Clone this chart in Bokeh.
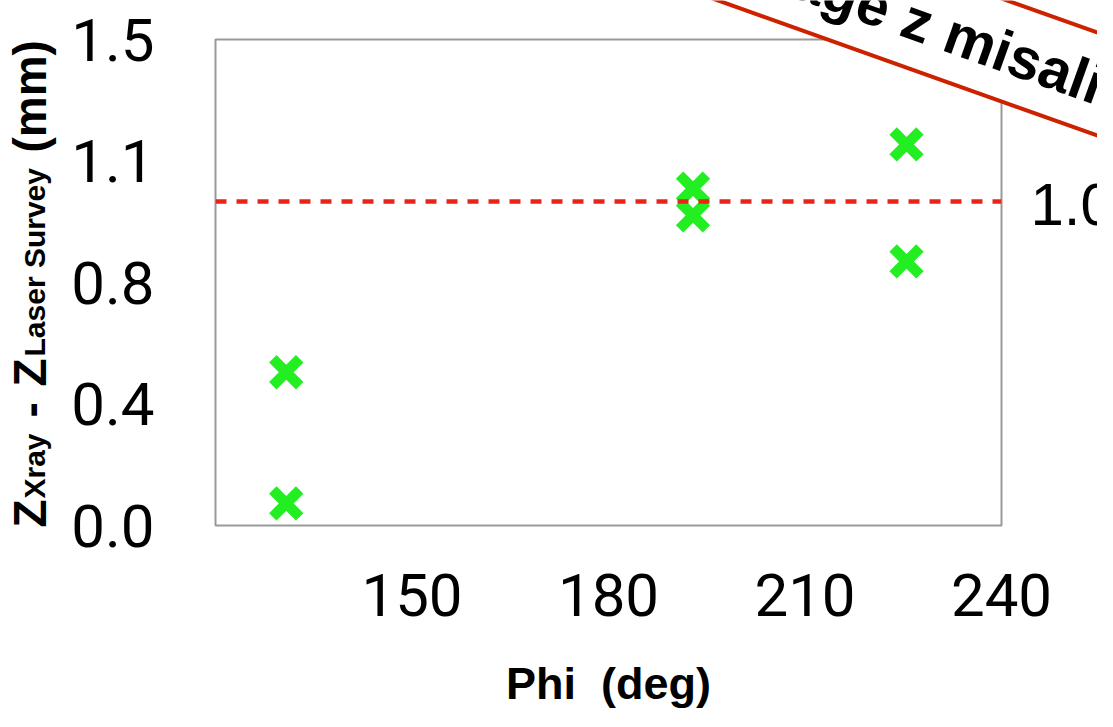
import math
from bokeh.plotting import figure
from bokeh.models import Label, Span, FixedTicker, Range1d
from bokeh.embed import file_html
from bokeh.resources import INLINE

# ---- data ----
phi = [130.8, 130.8, 192.9, 192.9, 225.5, 225.5]
dz = [0.473, 0.068, 1.040, 0.957, 1.176, 0.815]
threshold = 1.0
threshold_label = "1.0"
x_ticks = [150, 180, 210, 240]
y_ticks = [0, 0.375, 0.75, 1.125, 1.5]
y_tick_labels = ["0.0", "0.4", "0.8", "1.1", "1.5"]
x_title = "Phi \u00a0(deg)"
y_title_parts = ["Z", "Xray", "-", "Z", "Laser Survey", "(mm)"]
banner_text = "Average z misalignment"

# ---- layout (canvas px) ----
W, H = 1097, 711
FL, FT, FW, FH = 215, 39, 786, 486
X0, X1, Y0, Y1 = 120, 240, 0.0, 1.5

p = figure(width=W, height=H, x_range=(X0, X1), y_range=(Y0, Y1),
           output_backend="svg", toolbar_location=None)
p.min_border = 0
p.min_border_left = FL
p.min_border_right = W - FL - FW
p.min_border_top = FT
p.min_border_bottom = H - FT - FH
p.xgrid.visible = False
p.ygrid.visible = False
p.outline_line_color = "#999999"
p.outline_line_width = 2
p.background_fill_color = "white"
p.border_fill_color = "white"

tick_font = "Roboto"
for ax in (p.xaxis[0], p.yaxis[0]):
    ax.axis_line_color = None
    ax.major_tick_line_color = None
    ax.minor_tick_line_color = None
    ax.major_label_text_font = tick_font
    ax.major_label_text_font_size = "60px"
    ax.major_label_text_color = "black"

p.xaxis[0].ticker = FixedTicker(ticks=x_ticks)
p.yaxis[0].ticker = FixedTicker(ticks=y_ticks)
p.yaxis[0].major_label_overrides = {t: l for t, l in zip(y_ticks, y_tick_labels)}
p.xaxis[0].major_label_standoff = 42
p.yaxis[0].major_label_standoff = 55

p.xaxis[0].axis_label = x_title
p.xaxis[0].axis_label_text_font = "Liberation Sans"
p.xaxis[0].axis_label_text_font_style = "bold"
p.xaxis[0].axis_label_text_font_size = "45px"
p.xaxis[0].axis_label_text_color = "black"
p.xaxis[0].axis_label_standoff = 39

# threshold line
p.add_layout(Span(location=threshold, dimension="width", line_color="#EA2517",
                  line_width=4.5, line_dash="11 10"))

# markers
p.scatter(phi, dz, marker="x", size=38, line_width=10.5, line_color="#22EE22")

# ---- transparent overlay canvas (separate root) for free-floating annotations ----
ov = figure(width=W, height=H, x_range=Range1d(0, W), y_range=Range1d(H, 0),
            output_backend="svg", toolbar_location=None,
            x_axis_location=None, y_axis_location=None, min_border=0)
ov.grid.visible = False
ov.outline_line_color = None
ov.background_fill_color = None
ov.border_fill_color = None
ov.margin = (-H, 0, 0, 0)


def clabel(x, y, text, **kw):
    return Label(x=x, y=y, text=text, **kw)


# threshold value label
ov.add_layout(clabel(1030, 204, threshold_label,
                     text_font="Liberation Sans", text_font_size="60px",
                     text_baseline="middle", text_align="left", text_color="black"))

# rotated banner
ang = -math.radians(19.6)
ov.add_layout(clabel(660, -72, banner_text, angle=ang,
                     text_font="Liberation Sans", text_font_style="bold",
                     text_font_size="58px", text_baseline="middle", text_align="left",
                     text_color="black", background_fill_color="white",
                     border_line_color="#CC2200", border_line_width=4, padding=16))

# composite y-axis title (rotated, with subscripts)
big, sub = "46px", "30px"
pieces = [  # (text, size, baseline x, start y)
    (y_title_parts[0], big, 29, 527),
    (y_title_parts[1], sub, 34, 498),
    (y_title_parts[2], big, 29, 417),
    (y_title_parts[3], big, 29, 386),
    (y_title_parts[4], sub, 34, 356),
    (y_title_parts[5], big, 29, 152),
]
for txt, size, bx, sy in pieces:
    ov.add_layout(clabel(bx, sy, txt, angle=math.pi / 2,
                         text_font="Liberation Sans", text_font_style="bold",
                         text_font_size=size, text_baseline="alphabetic",
                         text_align="left", text_color="black"))

open("out.html", "w").write(file_html([p, ov], INLINE))
